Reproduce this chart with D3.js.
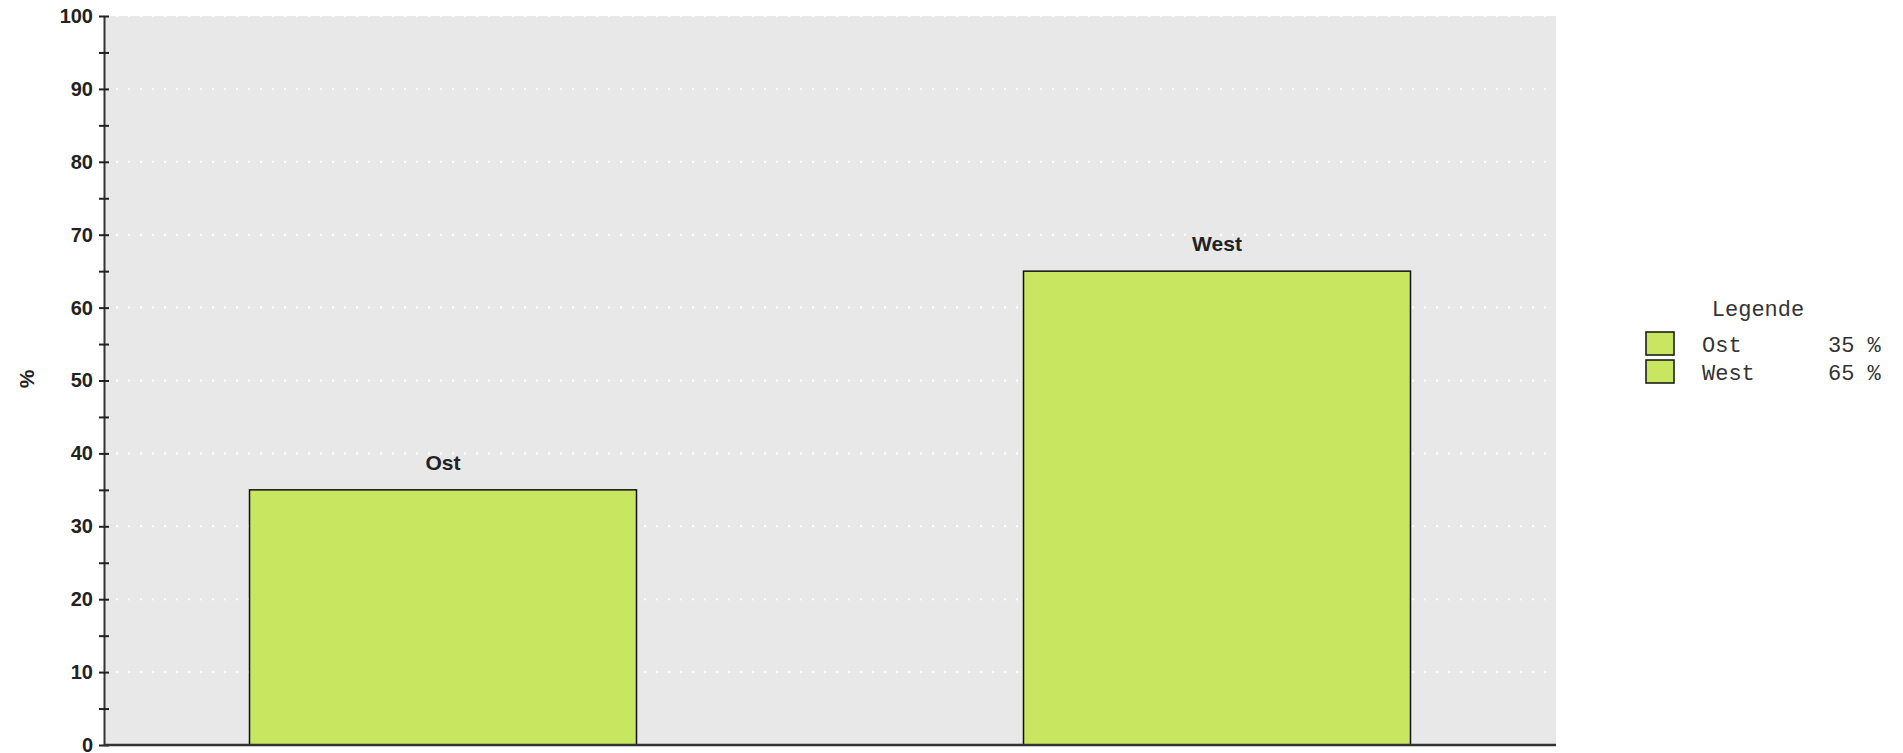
<!DOCTYPE html>
<html>
<head>
<meta charset="utf-8">
<title>Ost / West</title>
<style>
body { margin: 0; background: #fff; }
svg { display: block; }
.tick text { font-family: "Liberation Sans", Arial, sans-serif; font-weight: bold; font-size: 20px; fill: #222; }
.lab { font-family: "Liberation Sans", Arial, sans-serif; font-weight: bold; font-size: 21px; fill: #222; }
.leg { font-family: "Liberation Mono", "Courier New", monospace; font-size: 22px; fill: #333; }
</style>
</head>
<body>
<svg width="1903" height="753"></svg>
<script src="https://d3js.org/d3.v7.min.js"></script>
<script>
// data
var categories = ["Ost", "West"];
var values = [35, 65];
var majorTicks = [0, 10, 20, 30, 40, 50, 60, 70, 80, 90, 100];
var minorTicks = [5, 15, 25, 35, 45, 55, 65, 75, 85, 95];

var svg = d3.select("svg");
var plotLeft = 104, plotRight = 1556, plotTop = 16, plotBottom = 745;

var x = d3.scaleBand()
    .domain(categories)
    .range([plotLeft, plotRight])
    .paddingInner(0.5)
    .paddingOuter(0.188);

var y = d3.scaleLinear().domain([0, 100]).range([plotBottom, plotTop]);

// plot background
svg.append("rect")
    .attr("x", plotLeft).attr("y", plotTop)
    .attr("width", plotRight - plotLeft).attr("height", plotBottom - plotTop)
    .style("fill", "#e8e8e8");

// dotted white grid
svg.selectAll(".grid")
    .data(majorTicks.slice(1))
    .enter()
    .append("line")
    .attr("x1", plotLeft).attr("x2", plotRight)
    .attr("y1", d => y(d)).attr("y2", d => y(d))
    .style("stroke", "#fff")
    .style("stroke-width", 2)
    .style("stroke-dasharray", "2,10");

// bars
svg.selectAll(".bar")
    .data(values)
    .enter()
    .append("rect")
    .attr("x", (d, i) => x(categories[i]))
    .attr("y", d => y(d))
    .attr("width", x.bandwidth())
    .attr("height", d => y(0) - y(d))
    .style("fill", "#c8e660")
    .style("stroke", "#111")
    .style("stroke-width", 1.5);

// labels over bars
svg.selectAll(".lab")
    .data(values)
    .enter()
    .append("text")
    .attr("class", "lab")
    .attr("x", (d, i) => x(categories[i]) + x.bandwidth() / 2)
    .attr("y", d => y(d) - 20)
    .attr("text-anchor", "middle")
    .text((d, i) => categories[i]);

// y axis
var gy = svg.append("g")
    .attr("transform", `translate(${plotLeft},0)`)
    .call(d3.axisLeft(y).tickValues(majorTicks).tickSize(5).tickSizeOuter(0).tickPadding(6));
gy.select(".domain").style("stroke", "#333").style("stroke-width", 2);
gy.selectAll(".tick line").attr("x1", 5).style("stroke", "#222").style("stroke-width", 2);

var gm = svg.append("g")
    .attr("transform", `translate(${plotLeft},0)`)
    .call(d3.axisLeft(y).tickValues(minorTicks).tickSize(5).tickSizeOuter(0).tickFormat(""));
gm.select(".domain").remove();
gm.selectAll(".tick line").attr("x1", 5).style("stroke", "#222").style("stroke-width", 2);

// bottom axis line
svg.append("line")
    .attr("x1", plotLeft).attr("x2", plotRight)
    .attr("y1", plotBottom).attr("y2", plotBottom)
    .style("stroke", "#333").style("stroke-width", 2.5);

// y title
svg.append("text")
    .attr("class", "lab")
    .attr("transform", "translate(34,379) rotate(-90)")
    .attr("text-anchor", "middle")
    .text("%");

// legend
svg.append("text")
    .attr("class", "leg")
    .attr("x", 1758).attr("y", 316)
    .attr("text-anchor", "middle")
    .text("Legende");

var leg = svg.selectAll(".legrow")
    .data(values)
    .enter()
    .append("g")
    .attr("transform", (d, i) => `translate(0,${332 + i * 28})`);
leg.append("rect")
    .attr("x", 1646).attr("y", 0)
    .attr("width", 28).attr("height", 23)
    .style("fill", "#c8e660")
    .style("stroke", "#111")
    .style("stroke-width", 1.5);
leg.append("text")
    .attr("class", "leg")
    .attr("x", 1702).attr("y", 20)
    .text((d, i) => categories[i]);
leg.append("text")
    .attr("class", "leg")
    .attr("x", 1828).attr("y", 20)
    .text(d => d + " %");
</script>
</body>
</html>
